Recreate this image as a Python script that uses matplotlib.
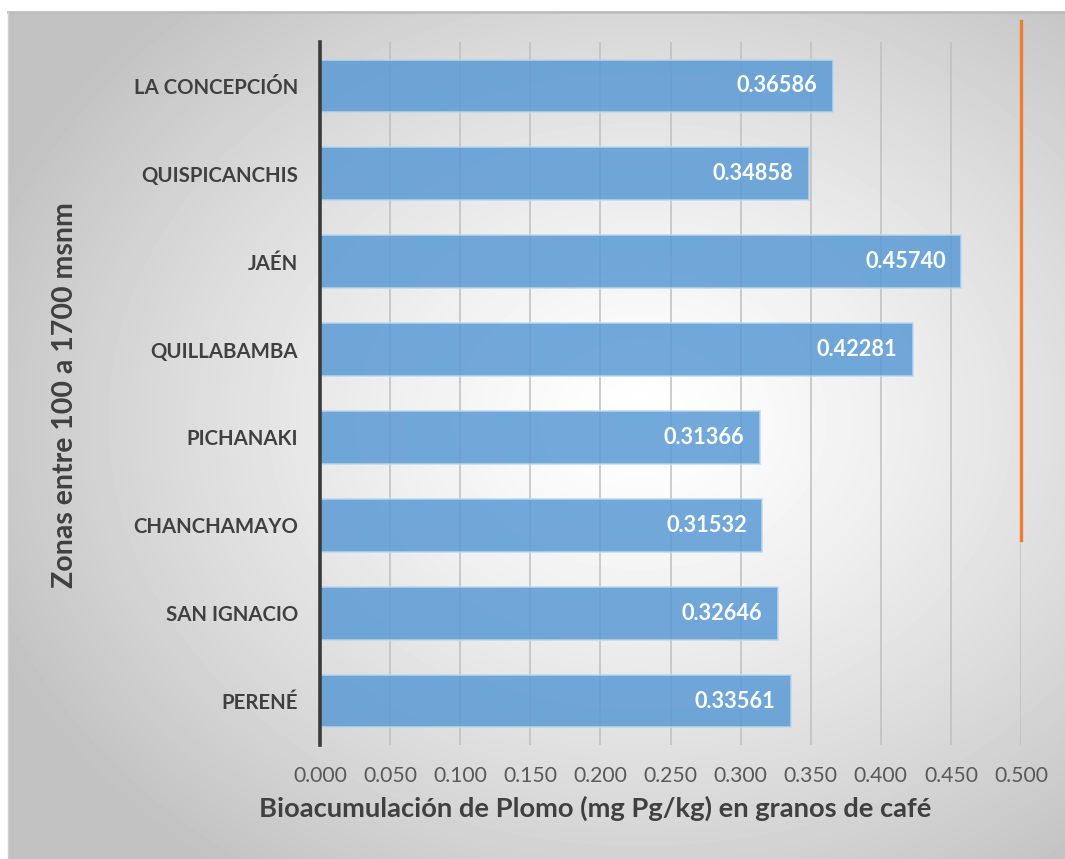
import numpy as np
import matplotlib.pyplot as plt

# lead bioaccumulation per zone (bottom to top)
zonas = ['PERENÉ', 'SAN IGNACIO', 'CHANCHAMAYO', 'PICHANAKI',
         'QUILLABAMBA', 'JAÉN', 'QUISPICANCHIS', 'LA CONCEPCIÓN']
plomo = [0.33561, 0.32646, 0.31532, 0.31366, 0.42281, 0.45740, 0.34858, 0.36586]
limite = 0.5
xticks = np.arange(0, 0.501, 0.05)

plt.rcParams['font.family'] = ['Lato', 'DejaVu Sans']

W, H = 1065, 859
fig = plt.figure(figsize=(W / 100, H / 100), dpi=100)

# radial gray background of the chart area
bg = fig.add_axes([8 / W, 0, 1 - 8 / W, 1 - 12 / H], zorder=-10)
yy, xx = np.mgrid[12:H, 8:W]
r = np.sqrt(((xx - 640) / 700.0) ** 2 + ((yy - 420) / 560.0) ** 2)
shade = 1.0 - 0.24 * np.clip(r, 0, 1) ** 1.3
bg.imshow(shade, cmap='gray', vmin=0, vmax=1, aspect='auto', interpolation='bilinear')
bg.set_axis_off()
fig.add_artist(plt.Line2D([8 / W, 1], [1 - 12 / H, 1 - 12 / H], color='#bdbdbd', lw=2))
fig.add_artist(plt.Line2D([8 / W, 8 / W], [0, 1 - 12 / H], color='#cfcfcf', lw=1))

ax = fig.add_axes([320 / W, 1 - 745 / H, 701 / W, 703 / H])
ax.patch.set_alpha(0)

y = np.arange(len(zonas))
ax.barh(y, plomo, height=0.6, color='#5b9bd5', alpha=0.86,
        edgecolor='#bdd7ee', linewidth=1.2, zorder=3)
for yi, v in zip(y, plomo):
    ax.annotate(f'{v:.5f}', xy=(v, yi), xytext=(-11, 0), textcoords='offset points',
                ha='right', va='center', color='white', fontsize=15.7,
                fontweight='bold', zorder=4)

# permissible limit line
ax.plot([limite, limite], [1.83, 7.74], color='#ed7d31', lw=2.4,
        clip_on=False, zorder=5)

ax.set_xlim(0, 0.5)
ax.set_ylim(-0.5, 7.5)
ax.set_xticks(xticks)
ax.set_xticklabels([f'{t:.3f}' for t in xticks], fontsize=15.2, color='#595959')
ax.set_yticks(y)
ax.set_yticklabels(zonas, fontsize=14.7, fontweight='bold', color='#404040')
ax.tick_params(axis='both', length=0)
ax.tick_params(axis='x', pad=15)
ax.tick_params(axis='y', pad=16)
ax.grid(axis='x', color='#bfbfbf', lw=1.1, zorder=1)
ax.set_axisbelow(True)
for s in ['top', 'right', 'bottom']:
    ax.spines[s].set_visible(False)
ax.spines['left'].set_color('#3a3a3a')
ax.spines['left'].set_linewidth(2.6)
ax.spines['left'].set_zorder(6)

fig.text(65 / W, 1 - 395 / H, 'Zonas entre 100 a 1700 msnm', rotation=90,
         ha='center', va='center', fontsize=20.5, fontweight='bold', color='#404040')
fig.text(595 / W, 1 - 808 / H, 'Bioacumulación de Plomo (mg Pg/kg) en granos de café',
         ha='center', va='center', fontsize=19.7, fontweight='bold', color='#404040')

fig.savefig('out.png', dpi=100)
